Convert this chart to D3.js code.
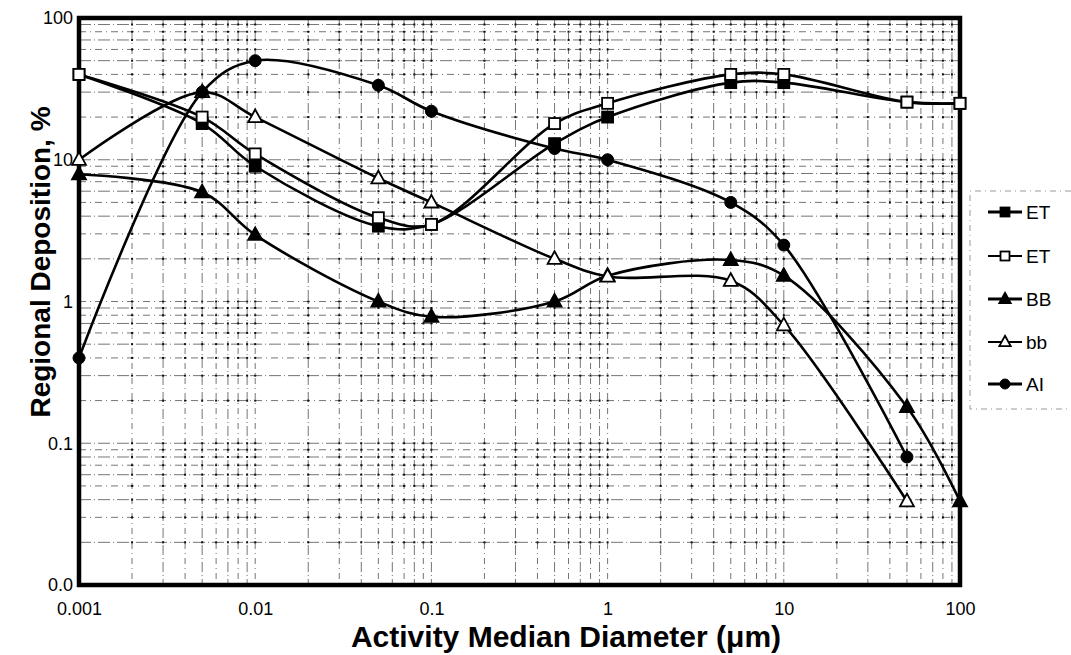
<!DOCTYPE html>
<html>
<head>
<meta charset="utf-8">
<script src="https://cdn.jsdelivr.net/npm/d3@7"></script>
<style>
  body { margin: 0; background: #fff; }
  svg { display: block; font-family: Arial, "Liberation Sans", sans-serif; }
</style>
</head>
<body>
<div id="chart"></div>
<script>
// Activity median diameter (um) and regional deposition (%)
const diameters = [0.001, 0.005, 0.01, 0.05, 0.1, 0.5, 1, 5, 10, 50, 100];
const etFilled = [40, 18, 9, 3.4, 3.5, 13, 20, 35, 35, 25.5, 25];
const etOpen   = [40, 20, 11, 3.9, 3.5, 18, 25, 40, 40, 25.5, 25];
const bbUpper  = [7.9, 5.9, 2.95, 1.0, 0.78, 1.0, 1.52, 1.96, 1.52, 0.18, 0.039];
const bbLower  = [10, 30, 20, 7.4, 5.0, 2.0, 1.5, 1.4, 0.68, 0.039];
const alveolar = [0.4, 30, 50, 33.5, 22, 12, 10, 5.0, 2.5, 0.08];

const xTicks = [0.001, 0.01, 0.1, 1, 10, 100];
const yTicks = [0.01, 0.1, 1, 10, 100];
const yTickLabels = ['0.0', '0.1', '1', '10', '100'];

const series = [
  { name: 'ET', values: etFilled, marker: 'square', fill: '#000' },
  { name: 'ET', values: etOpen, marker: 'square', fill: '#fff' },
  { name: 'BB', values: bbUpper, marker: 'triangle', fill: '#000' },
  { name: 'bb', values: bbLower, marker: 'triangle', fill: '#fff' },
  { name: 'AI', values: alveolar, marker: 'circle', fill: '#000' }
];

const W = 1071, H = 655;
const margin = { top: 18, right: 111, bottom: 70, left: 79 };

const svg = d3.select('#chart').append('svg')
  .attr('width', W).attr('height', H);

const x = d3.scaleLog().domain([0.001, 100]).range([margin.left, W - margin.right]);
const y = d3.scaleLog().domain([0.01, 100]).range([H - margin.bottom, margin.top]);

const x0 = x.range()[0], x1 = x.range()[1];
const y0 = y.range()[0], y1 = y.range()[1];

// minor + major grid positions
const xGrid = [];
for (let e = -3; e < 2; e++) for (let m = 1; m < 10; m++) xGrid.push(m * Math.pow(10, e));
xGrid.push(100);
const yGrid = [];
for (let e = -2; e < 2; e++) for (let m = 1; m < 10; m++) yGrid.push(m * Math.pow(10, e));
yGrid.push(100);

const grid = svg.append('g').attr('class', 'grid');
grid.selectAll('line.v').data(xGrid).enter().append('line')
  .attr('x1', d => x(d)).attr('x2', d => x(d))
  .attr('y1', y1).attr('y2', y0)
  .attr('stroke', '#3a3a3a')
  .attr('stroke-width', 0.7)
  .attr('stroke-dasharray', (d, i) => i % 2 ? '6,4,1,4' : '10,3,1,3');
grid.selectAll('line.h').data(yGrid).enter().append('line')
  .attr('y1', d => y(d)).attr('y2', d => y(d))
  .attr('x1', x0).attr('x2', x1)
  .attr('stroke', '#3a3a3a')
  .attr('stroke-width', 0.7)
  .attr('stroke-dasharray', (d, i) => i % 2 ? '12,3,1,3' : '7,4,1,4');

// small dots at grid crossings, like the printed grid
const crossings = [];
xGrid.forEach(a => yGrid.forEach(b => crossings.push([a, b])));
grid.selectAll('rect.dot').data(crossings).enter().append('rect')
  .attr('x', d => x(d[0]) - 1).attr('y', d => y(d[1]) - 1)
  .attr('width', 2).attr('height', 2)
  .attr('fill', '#111');

// frame
svg.append('rect')
  .attr('x', x0).attr('y', y1)
  .attr('width', x1 - x0).attr('height', y0 - y1)
  .attr('fill', 'none').attr('stroke', '#000').attr('stroke-width', 4.5);

// axes
const xAxis = svg.append('g')
  .attr('transform', `translate(0,${y0})`)
  .call(d3.axisBottom(x).tickValues(xTicks).tickFormat(d => d3.format('~g')(d)).tickSize(0).tickPadding(17));
xAxis.select('.domain').remove();
xAxis.selectAll('text').style('font-size', '18px').style('fill', '#000');

const yAxis = svg.append('g')
  .attr('transform', `translate(${x0},0)`)
  .call(d3.axisLeft(y).tickValues(yTicks).tickFormat((d, i) => yTickLabels[i]).tickSize(0).tickPadding(6));
yAxis.select('.domain').remove();
yAxis.selectAll('text').style('font-size', '18px').style('fill', '#000');

// axis titles
svg.append('text')
  .attr('x', 566).attr('y', 647)
  .attr('text-anchor', 'middle')
  .style('font-size', '30px').style('font-weight', 'bold')
  .text('Activity Median Diameter (\u03bcm)');

svg.append('text')
  .attr('transform', `translate(50,262) rotate(-90)`)
  .attr('text-anchor', 'middle')
  .style('font-size', '28px').style('font-weight', 'bold')
  .text('Regional Deposition, %');

// lines
const line = d3.line()
  .x(d => x(d.d))
  .y(d => y(d.v))
  .curve(d3.curveCatmullRom.alpha(0.5));

function drawMarker(g, type, fill, size) {
  if (type === 'square') {
    g.append('rect').attr('x', -size / 2).attr('y', -size / 2)
      .attr('width', size).attr('height', size)
      .attr('fill', fill).attr('stroke', '#000').attr('stroke-width', 1.8);
  } else if (type === 'triangle') {
    const s = size * 1.15;
    g.append('path')
      .attr('d', `M0,${-s * 0.6}L${s * 0.55},${s * 0.4}L${-s * 0.55},${s * 0.4}Z`)
      .attr('fill', fill).attr('stroke', '#000').attr('stroke-width', 1.8);
  } else {
    g.append('circle').attr('r', size / 2 + 0.5)
      .attr('fill', fill).attr('stroke', '#000').attr('stroke-width', 1);
  }
}

const plot = svg.append('g');
series.forEach(s => {
  const pts = s.values.map((v, i) => ({ d: diameters[i], v }));
  plot.append('path').datum(pts)
    .attr('fill', 'none').attr('stroke', '#000').attr('stroke-width', 2.6)
    .attr('d', line);
});
series.forEach(s => {
  s.values.forEach((v, i) => {
    const g = plot.append('g').attr('transform', `translate(${x(diameters[i])},${y(v)})`);
    drawMarker(g, s.marker, s.fill, 11);
  });
});

// legend
const legend = svg.append('g');
legend.append('path')
  .attr('d', `M${W},191H970V409H${W}`)
  .attr('fill', 'none').attr('stroke', '#999').attr('stroke-width', 1)
  .attr('stroke-dasharray', '6,4,1,4');

const legendY = [212, 256, 299, 342, 384];
series.forEach((s, i) => {
  const item = legend.append('g').attr('transform', `translate(0,${legendY[i]})`);
  item.append('line').attr('x1', 988).attr('x2', 1022).attr('y1', 0).attr('y2', 0)
    .attr('stroke', '#000').attr('stroke-width', s.fill === '#fff' ? 2 : 3);
  const m = item.append('g').attr('transform', 'translate(1005,0)');
  drawMarker(m, s.marker, s.fill, 9);
  item.append('text').attr('x', 1026).attr('y', 7)
    .style('font-size', '19px').text(s.name);
});
</script>
</body>
</html>
